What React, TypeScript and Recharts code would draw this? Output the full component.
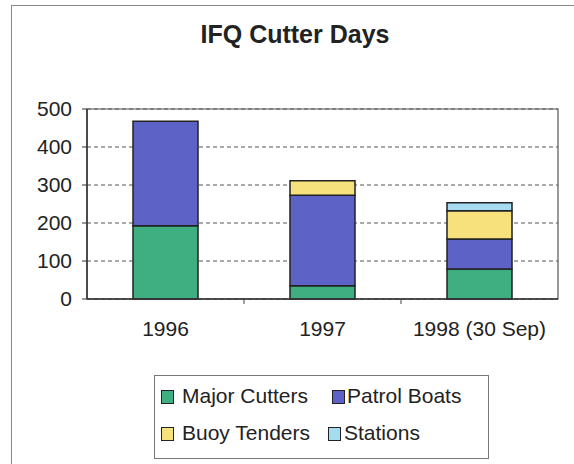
import React from 'react';
import { BarChart, Bar, XAxis, YAxis, CartesianGrid, Legend, ReferenceArea } from 'recharts';

const years = ['1996', '1997', '1998 (30 Sep)'];
const majorCutters = [193, 35, 79];
const patrolBoats = [275, 238, 79];
const buoyTenders = [0, 38, 74];
const stations = [0, 0, 21];
const yTicks = [0, 100, 200, 300, 400, 500];
const seriesNames = ['Major Cutters', 'Patrol Boats', 'Buoy Tenders', 'Stations'];
const seriesKeys = ['major', 'patrol', 'buoy', 'stations'];
const seriesColors = ['#3fae80', '#5d63c6', '#f6e17c', '#a6dcf0'];

const data = years.map((y, i) => ({
  year: y,
  major: majorCutters[i],
  patrol: patrolBoats[i],
  buoy: buoyTenders[i],
  stations: stations[i],
}));

const FONT = '"Liberation Sans", Arial, sans-serif';
const W = 574;
const H = 464;
const PLOT_LEFT = 87;
const PLOT_RIGHT_MARGIN = 16;
const HALF_BAND = (W - PLOT_LEFT - PLOT_RIGHT_MARGIN) / years.length / 2;

const XTick = (props: any) => {
  const { x, y, payload, index } = props;
  return (
    <g>
      {index < years.length - 1 && (
        <line x1={x + HALF_BAND} x2={x + HALF_BAND} y1={y - 22} y2={y - 17} stroke="#444" strokeWidth={1} />
      )}
      <text x={x} y={y} dy="0.71em" textAnchor="middle" fontSize={21} fill="#222" fontFamily={FONT}>
        {payload.value}
      </text>
    </g>
  );
};

const legendPos = [
  { sx: 7, tx: 28, cy: 22 },
  { sx: 178, tx: 193, cy: 22 },
  { sx: 7, tx: 28, cy: 59 },
  { sx: 174, tx: 190, cy: 59 },
];

const LegendBox = () => (
  <div
    style={{
      position: 'relative',
      width: 335,
      height: 84,
      boxSizing: 'border-box',
      border: '1px solid #777',
      background: '#fff',
      fontFamily: FONT,
      fontSize: 21,
      color: '#222',
    }}
  >
    {seriesNames.map((name, i) => (
      <React.Fragment key={name}>
        <div
          style={{
            position: 'absolute',
            left: legendPos[i].sx - 1,
            top: legendPos[i].cy - 7 - 1,
            width: 11,
            height: 12,
            background: seriesColors[i],
            border: '1.5px solid #222',
          }}
        />
        <div
          style={{
            position: 'absolute',
            left: legendPos[i].tx - 1,
            top: legendPos[i].cy - 13 - 1,
            lineHeight: '24px',
            whiteSpace: 'nowrap',
          }}
        >
          {name}
        </div>
      </React.Fragment>
    ))}
  </div>
);

export default function App() {
  return (
    <div style={{ position: 'absolute', left: 0, top: 0, width: W, height: H, background: '#fff', overflow: 'hidden' }}>
      <div
        style={{
          position: 'absolute',
          left: 11,
          top: 5,
          width: W - 11,
          height: H - 5,
          boxSizing: 'border-box',
          borderLeft: '1.5px solid #888',
          borderTop: '1.5px solid #888',
        }}
      />
      <div
        style={{
          position: 'absolute',
          left: 0,
          width: W,
          top: 20,
          textAlign: 'center',
          paddingLeft: 16,
          boxSizing: 'border-box',
          fontFamily: FONT,
          fontWeight: 'bold',
          fontSize: 25,
          color: '#222',
          lineHeight: '29px',
        }}
      >
        IFQ Cutter Days
      </div>
      <div style={{ position: 'absolute', left: 0, top: 0 }}>
        <BarChart
          width={W}
          height={H}
          data={data}
          margin={{ top: 109, right: PLOT_RIGHT_MARGIN, left: 0, bottom: 41 }}
          barSize={65}
          style={{ fontFamily: FONT }}
        >
          <CartesianGrid vertical={false} stroke="#555" strokeDasharray="4 3" />
          <ReferenceArea y1={0} y2={500} fill="none" stroke="#555" strokeWidth={1.2} ifOverflow="visible" />
          <XAxis
            dataKey="year"
            height={40}
            tickLine={false}
            tickSize={0}
            tickMargin={22}
            axisLine={{ stroke: '#333', strokeWidth: 1.5 }}
            tick={<XTick />}
            interval={0}
          />
          <YAxis
            width={87}
            domain={[0, 500]}
            ticks={yTicks}
            tickSize={5}
            tickMargin={10}
            axisLine={{ stroke: '#333', strokeWidth: 1.5 }}
            tickLine={{ stroke: '#333' }}
            tick={{ fontSize: 21, fill: '#222', fontFamily: FONT }}
          />
          {seriesKeys.map((k, i) => (
            <Bar
              key={k}
              dataKey={k}
              name={seriesNames[i]}
              stackId="a"
              fill={seriesColors[i]}
              stroke="#222"
              strokeWidth={1.5}
              isAnimationActive={false}
            />
          ))}
          <Legend
            verticalAlign="bottom"
            content={<LegendBox />}
            wrapperStyle={{ left: 154, bottom: 5, width: 335, height: 84 }}
          />
        </BarChart>
      </div>
    </div>
  );
}
